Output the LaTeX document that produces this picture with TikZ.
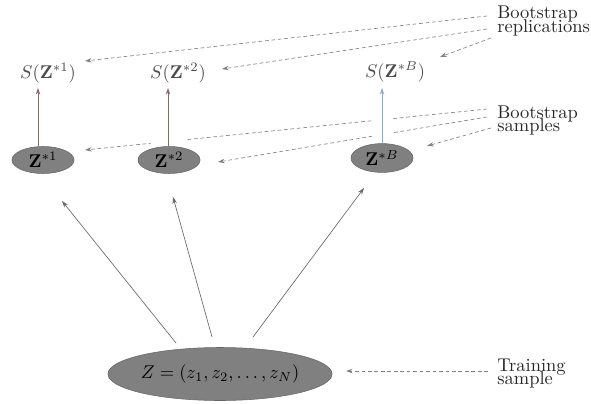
\documentclass[tikz,border=0pt]{standalone}
\usetikzlibrary{shapes.geometric,arrows.meta}
\begin{document}
\begin{tikzpicture}[x=0.5415pt,y=-0.5415pt,
 ell/.style={ellipse,draw=black!60,fill=black!50,inner sep=0pt,line width=0.3pt},
 stat/.style={text=black!70, inner sep=0pt},
 lab/.style={anchor=base west, inner sep=0pt, text=black!85},
 tip/.style={-{Stealth[length=3.6pt,width=2.4pt]}},
 darr/.style={tip, draw=black!50, dash pattern=on 2pt off 1.5pt, line width=0.35pt},
 sarr/.style={tip, draw=black!60, line width=0.35pt},
 varr/.style={tip, draw={rgb,255:red,125;green,110;blue,105}, line width=0.4pt},
 varrb/.style={tip, draw={rgb,255:red,145;green,170;blue,195}, line width=0.4pt},
 gap/.style={draw=white, line cap=butt},
]
\useasboundingbox (0,0) rectangle (591,403);

% statistics
\node[stat] (s1) at (48,73) {$S(\mathbf{Z}^{*1})$};
\node[stat] (s2) at (178,73) {$S(\mathbf{Z}^{*2})$};
\node[stat] (sB) at (395,72) {$S(\mathbf{Z}^{*B})$};

% bootstrap samples
\node[ell, minimum width=33.6pt, minimum height=14.6pt] (z1) at (43,160) {$\mathbf{Z}^{*1}$};
\node[ell, minimum width=33.6pt, minimum height=14.6pt] (z2) at (169,160) {$\mathbf{Z}^{*2}$};
\node[ell, minimum width=33.6pt, minimum height=15.6pt] (zB) at (382,158) {$\mathbf{Z}^{*B}$};

% training sample
\node[ell, minimum width=120.8pt, minimum height=28.7pt] (z) at (220,374) {$Z=(z_1,z_2,\ldots,z_N)$};

% labels
\node[lab] (br1) at (497,19) {Bootstrap};
\node[lab] (br2) at (497,33) {replications};
\node[lab] (bs1) at (497,118) {Bootstrap};
\node[lab] (bs2) at (497,131) {samples};
\node[lab] (ts1) at (497,371) {Training};
\node[lab] (ts2) at (497,384) {sample};

% dashed pointers: replications
\coordinate (r1a) at (487,16);  \coordinate (r1b) at (85,61);
\coordinate (r2a) at (487,29);  \coordinate (r2b) at (222,69);
\coordinate (r3a) at (491,38);  \coordinate (r3b) at (440,57);
\draw[darr] (r1a) -- (r1b);
\draw[darr] (r2a) -- (r2b);
\draw[darr] (r3a) -- (r3b);

% dashed pointers: samples
\coordinate (p1a) at (487,109); \coordinate (p1b) at (85,150);
\coordinate (p2a) at (487,117); \coordinate (p2b) at (218,162);
\coordinate (p3a) at (491,128); \coordinate (p3b) at (427,146);
\draw[darr] (p1a) -- (p1b);
\draw[darr] (p2a) -- (p2b);
\draw[darr] (p3a) -- (p3b);

% dashed pointer: training
\coordinate (ta) at (488,371); \coordinate (tb) at (346,371);
\draw[darr] (ta) -- (tb);

% gaps where the dashed lines pass behind the vertical arrows
\draw[gap, line width=18pt] (168,133) -- (168,145);
\draw[gap, line width=11pt] (382,108) -- (382,142);

% vertical arrows
\coordinate (t1) at (38,88);
\coordinate (t2) at (168,88);
\coordinate (tB) at (382,88);
\draw[varr] (z1.north -| t1) -- (t1);
\draw[varr] (z2.north -| t2) -- (t2);
\draw[varrb] (zB.north) -- (tB);

% resampling arrows
\coordinate (a1) at (176,343); \coordinate (b1) at (62,201);
\coordinate (a2) at (212,337); \coordinate (b2) at (173,197);
\coordinate (a3) at (253,337); \coordinate (b3) at (364,188);
\draw[sarr] (a1) -- (b1);
\draw[sarr] (a2) -- (b2);
\draw[sarr] (a3) -- (b3);
\end{tikzpicture}
\end{document}
